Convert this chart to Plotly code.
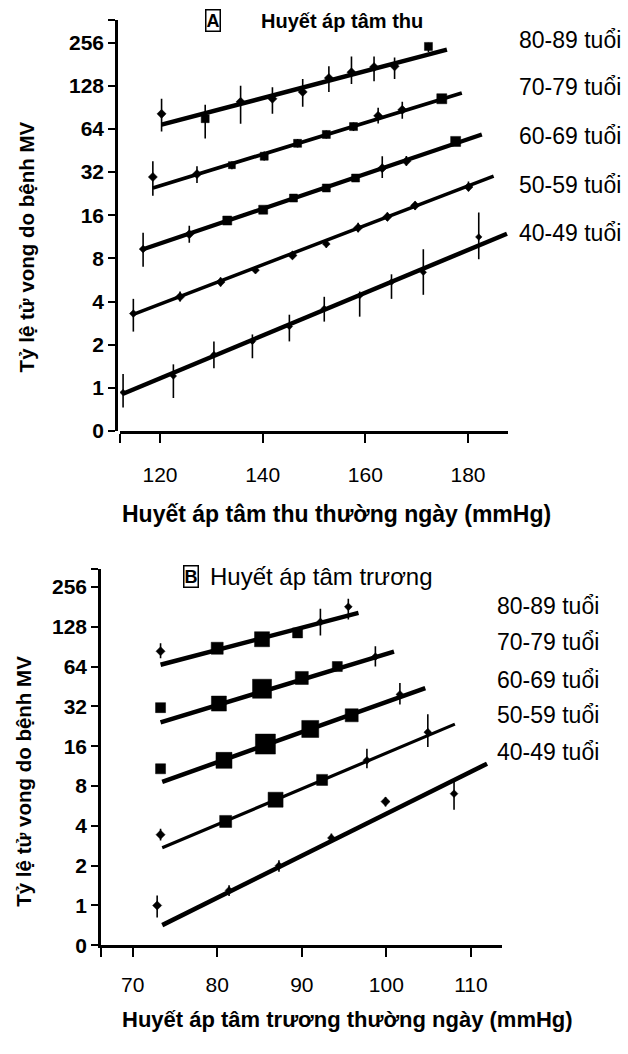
import math
import plotly.graph_objects as go

# ---------------- DATA ----------------
groups = ["80-89 tuổi", "70-79 tuổi", "60-69 tuổi", "50-59 tuổi", "40-49 tuổi"]

# Panel A: systolic BP (mmHg) vs mortality rate
A_x_8089 = [120.3, 128.8, 135.7, 141.9, 147.8, 152.9, 157.3, 161.7, 165.7, 172.3]
A_y_8089 = [81.6, 75.5, 99, 104, 116, 145, 159, 173, 175, 241]
A_hi_8089 = [104, 94.3, 128, 125, 143, 175, 205, 205, 202, 256]
A_lo_8089 = [61.4, 54.9, 69.7, 81.7, 91.4, 116, 132, 138, 143, 220]
A_fitx_8089 = [120.3, 175.9]
A_fity_8089 = [68.6, 229]

A_x_7079 = [118.6, 127.2, 134.0, 140.3, 146.8, 152.4, 157.7, 162.5, 167.2, 174.9]
A_y_7079 = [29.6, 31, 35.8, 41.3, 50.8, 58.6, 66.5, 79, 87, 104]
A_hi_7079 = [38.1, 35.2, 38, 44.5, 54.5, 62.5, 71, 90, 99, 110]
A_lo_7079 = [21.9, 26.9, 33.5, 38.5, 47.5, 55, 62, 70, 75.5, 98]
A_fitx_7079 = [118.6, 178.8]
A_fity_7079 = [24.8, 114]

A_x_6069 = [116.7, 125.7, 133.1, 140.1, 146.0, 152.4, 158.1, 163.3, 168.0, 177.6]
A_y_6069 = [9.3, 11.8, 14.7, 17.5, 21.1, 24.8, 29.1, 34.1, 38.1, 52.4]
A_hi_6069 = [12.1, 13.5, 15.6, 18.5, 22.3, 26.2, 31, 41.3, 41.5, 55.5]
A_lo_6069 = [7.0, 10.3, 13.8, 16.5, 20, 23.5, 27.5, 29.1, 35.5, 49.5]
A_fitx_6069 = [116.7, 182.7]
A_fity_6069 = [9.26, 58.5]

A_x_5059 = [114.8, 123.9, 131.8, 138.6, 145.8, 152.4, 158.6, 164.3, 169.7, 180.1]
A_y_5059 = [3.3, 4.32, 5.48, 6.63, 8.4, 10.1, 13.1, 15.6, 18.7, 25.2]
A_hi_5059 = [4.18, 4.7, 5.9, 7.0, 8.8, 10.8, 14.2, 16.7, 20, 27.5]
A_lo_5059 = [2.47, 4.0, 5.1, 6.3, 8.0, 9.5, 12.2, 14.6, 17.5, 23.5]
A_fitx_5059 = [114.8, 185.0]
A_fity_5059 = [3.26, 30]

A_x_4049 = [112.8, 122.6, 130.5, 138.0, 145.2, 152.0, 158.9, 165.1, 171.3, 182.1]
A_y_4049 = [0.93, 1.21, 1.71, 2.11, 2.68, 3.58, 4.4, 5.48, 6.4, 11.3]
A_hi_4049 = [1.25, 1.46, 2.11, 2.36, 3.24, 4.32, 4.7, 6.2, 9.26, 16.7]
A_lo_4049 = [0.73, 0.85, 1.37, 1.61, 2.11, 2.9, 3.14, 4.18, 4.46, 7.9]
A_fitx_4049 = [112.8, 187.6]
A_fity_4049 = [0.91, 11.9]

# Panel B: diastolic BP (mmHg) vs mortality rate
B_x_8089 = [73.3, 80.0, 85.3, 89.5, 92.2, 95.5]
B_y_8089 = [83.5, 88, 103, 115, 139, 181]
B_hi_8089 = [96, 92, 107, 119, 175, 208]
B_lo_8089 = [74, 84, 99, 111, 110, 145]
B_fitx_8089 = [73.3, 96.7]
B_fity_8089 = [66, 163]

B_x_7079 = [73.3, 80.2, 85.3, 90.0, 94.2, 98.7]
B_y_7079 = [31.3, 33.6, 43.5, 52.5, 64, 76]
B_hi_7079 = [32, 34.5, 44.5, 53.5, 66, 91]
B_lo_7079 = [30.5, 32.8, 42.5, 51.5, 62, 64]
B_fitx_7079 = [73.3, 100.9]
B_fity_7079 = [24.2, 83]

B_x_6069 = [73.3, 80.8, 85.7, 91.0, 95.9, 101.6]
B_y_6069 = [10.8, 12.5, 16.6, 21.6, 27.4, 39.4]
B_hi_6069 = [11, 12.8, 17, 22, 28, 48]
B_lo_6069 = [10.6, 12.2, 16.2, 21.2, 26.8, 33]
B_fitx_6069 = [73.5, 104.6]
B_fity_6069 = [8.6, 44]

B_x_5059 = [73.3, 81.0, 86.9, 92.4, 97.7, 104.9]
B_y_5059 = [3.43, 4.32, 6.3, 8.9, 12.5, 20.4]
B_hi_5059 = [3.8, 4.45, 6.5, 9.2, 15.3, 27.9]
B_lo_5059 = [3.1, 4.2, 6.1, 8.6, 10.9, 15.8]
B_fitx_5059 = [73.5, 108.1]
B_fity_5059 = [2.73, 23.5]

B_x_4049 = [72.9, 81.4, 87.3, 93.5, 99.9, 108.0]
B_y_4049 = [1.0, 1.30, 2.0, 3.24, 6.1, 7.0]
B_hi_4049 = [1.19, 1.42, 2.2, 3.5, 6.6, 8.9]
B_lo_4049 = [0.81, 1.18, 1.8, 3.0, 5.6, 5.3]
B_fitx_4049 = [73.5, 111.9]
B_fity_4049 = [0.71, 11.8]

y_tick_vals = [0.5, 1, 2, 4, 8, 16, 32, 64, 128, 256]
y_tick_text = ["0", "1", "2", "4", "8", "16", "32", "64", "128", "256"]
A_x_ticks = [120, 140, 160, 180]
B_x_ticks = [70, 80, 90, 100, 110]

title_A = "Huyết áp tâm thu"
title_B = "Huyết áp tâm trương"
xtitle_A = "Huyết áp tâm thu thường ngày (mmHg)"
xtitle_B = "Huyết áp tâm trương thường ngày (mmHg)"
ytitle = "Tỷ lệ tử vong do bệnh MV"

# ---------------- STYLES ----------------
D, S = "diamond", "square"
A_styles = [
    dict(sym=[D, S, D, D, D, D, D, D, D, S], size=[7, 8, 7, 7, 7, 7, 7, 7, 7, 8], lw=4.5),
    dict(sym=[D, D, S, S, S, S, S, D, D, S], size=[7, 7, 7, 8, 8, 8, 8, 7, 7, 10], lw=3.8),
    dict(sym=[D, D, S, S, S, S, S, D, D, S], size=[6, 7, 9, 9, 8, 8, 8, 7, 7, 10], lw=4.2),
    dict(sym=[D] * 10, size=[6, 7, 7, 6, 7, 6, 7, 7, 7, 7], lw=3.5),
    dict(sym=[D] * 10, size=[5] * 10, lw=4.5),
]
B_styles = [
    dict(sym=[D, S, S, S, D, D], size=[7, 12, 15, 10, 6, 6], lw=4.5),
    dict(sym=[S, S, S, S, S, D], size=[10, 15, 19, 13, 10, 6], lw=4.5),
    dict(sym=[S, S, S, S, S, D], size=[10, 16, 20, 17, 13, 6], lw=4.5),
    dict(sym=[D, S, S, S, D, D], size=[7, 12, 15, 11, 6, 6], lw=3.2),
    dict(sym=[D, D, D, D, D, D], size=[7, 6, 6, 6, 7, 6], lw=4.5),
]

A_series = [
    (A_x_8089, A_y_8089, A_hi_8089, A_lo_8089, A_fitx_8089, A_fity_8089),
    (A_x_7079, A_y_7079, A_hi_7079, A_lo_7079, A_fitx_7079, A_fity_7079),
    (A_x_6069, A_y_6069, A_hi_6069, A_lo_6069, A_fitx_6069, A_fity_6069),
    (A_x_5059, A_y_5059, A_hi_5059, A_lo_5059, A_fitx_5059, A_fity_5059),
    (A_x_4049, A_y_4049, A_hi_4049, A_lo_4049, A_fitx_4049, A_fity_4049),
]
B_series = [
    (B_x_8089, B_y_8089, B_hi_8089, B_lo_8089, B_fitx_8089, B_fity_8089),
    (B_x_7079, B_y_7079, B_hi_7079, B_lo_7079, B_fitx_7079, B_fity_7079),
    (B_x_6069, B_y_6069, B_hi_6069, B_lo_6069, B_fitx_6069, B_fity_6069),
    (B_x_5059, B_y_5059, B_hi_5059, B_lo_5059, B_fitx_5059, B_fity_5059),
    (B_x_4049, B_y_4049, B_hi_4049, B_lo_4049, B_fitx_4049, B_fity_4049),
]

W, H = 628, 1054
FONT = "Liberation Sans, Arial, sans-serif"


def px(x):
    return x / W


def py(y):
    return 1 - y / H


fig = go.Figure()


def add_panel(series, styles, xa, ya):
    for (xs, ys, hi, lo, fx, fy), st, name in zip(series, styles, groups):
        fig.add_trace(go.Scatter(
            x=fx, y=fy, mode="lines", xaxis=xa, yaxis=ya, name=name,
            line=dict(color="black", width=st["lw"]), showlegend=False,
        ))
        fig.add_trace(go.Scatter(
            x=xs, y=ys, mode="markers", xaxis=xa, yaxis=ya, name=name,
            marker=dict(color="black", symbol=st["sym"], size=st["size"], opacity=1,
                        line=dict(color="black", width=0.5)),
            error_y=dict(type="data", symmetric=False,
                         array=[h - v for h, v in zip(hi, ys)],
                         arrayminus=[v - l for l, v in zip(lo, ys)],
                         color="black", thickness=1.6, width=0),
            showlegend=False,
        ))


add_panel(A_series, A_styles, "x", "y")
add_panel(B_series, B_styles, "x2", "y2")

# axis extents
A_xmin, A_xmax = 112.2, 187.8
A_ytop = 2 ** 8.53
B_xmin, B_xmax = 66.26, 113.67
B_ytop = 2 ** 8.45

axis_common = dict(showline=True, linecolor="black", linewidth=2.5, ticks="outside",
                   tickcolor="black", tickwidth=2, showgrid=False, zeroline=False)

fig.update_layout(
    width=W, height=H, margin=dict(l=0, r=0, t=0, b=0),
    paper_bgcolor="white", plot_bgcolor="white",
    font=dict(family=FONT, color="black"),
    xaxis=dict(domain=[px(120), px(508)], range=[A_xmin, A_xmax], anchor="y",
               tickvals=[A_xmin] + A_x_ticks, ticktext=[""] + [str(t) for t in A_x_ticks],
               ticklen=9, tickfont=dict(size=21), ticklabelstandoff=14, **axis_common),
    yaxis=dict(domain=[py(435.6), py(20)], type="log",
               range=[math.log10(0.5), math.log10(A_ytop)],
               anchor="free", position=px(116),
               tickvals=y_tick_vals + [A_ytop], ticktext=y_tick_text + [""],
               ticklen=7, tickfont=dict(size=21, weight="bold"), **axis_common),
    xaxis2=dict(domain=[px(101), px(502)], range=[B_xmin, B_xmax], anchor="y2",
                tickvals=[B_xmin] + B_x_ticks, ticktext=[""] + [str(t) for t in B_x_ticks],
                ticklen=9, tickfont=dict(size=21), ticklabelstandoff=10, **axis_common),
    yaxis2=dict(domain=[py(955.25), py(575)], type="log",
                range=[math.log10(0.5), math.log10(B_ytop)], anchor="x2",
                tickvals=y_tick_vals + [B_ytop], ticktext=y_tick_text + [""],
                ticklen=7, tickfont=dict(size=21, weight="bold"), **axis_common),
)

ann = []
# group labels
for name, yy in zip(groups, [40, 88, 137, 187, 235]):
    ann.append(dict(x=px(517), y=py(yy), text=name, xanchor="left", yanchor="middle",
                    font=dict(size=23)))
for name, yy in zip(groups, [612, 649, 687, 723, 760]):
    ann.append(dict(x=px(495), y=py(yy), text=name, xanchor="left", yanchor="middle",
                    font=dict(size=23)))
# panel titles
ann.append(dict(x=px(213), y=py(21), text="<b>A</b>", xanchor="center", yanchor="middle",
                font=dict(size=18), bordercolor="black", borderwidth=1.5, borderpad=0))
ann.append(dict(x=px(259), y=py(21), text="<b>" + title_A + "</b>", xanchor="left",
                yanchor="middle", font=dict(size=20)))
ann.append(dict(x=px(191), y=py(583), text="<b>B</b>", xanchor="center", yanchor="middle",
                font=dict(size=18), bordercolor="black", borderwidth=1.5, borderpad=0))
ann.append(dict(x=px(208), y=py(583), text=title_B, xanchor="left", yanchor="middle",
                font=dict(size=24)))
# axis titles
ann.append(dict(x=px(336), y=py(519), text="<b>" + xtitle_A + "</b>", xanchor="center",
                yanchor="middle", font=dict(size=23)))
ann.append(dict(x=px(347), y=py(1030), text="<b>" + xtitle_B + "</b>", xanchor="center",
                yanchor="middle", font=dict(size=22)))
ann.append(dict(x=px(26), y=py(250), text="<b>" + ytitle + "</b>", textangle=-90,
                xanchor="center", yanchor="middle", font=dict(size=20.5)))
ann.append(dict(x=px(24), y=py(790), text="<b>" + ytitle + "</b>", textangle=-90,
                xanchor="center", yanchor="middle", font=dict(size=20.5)))
for a in ann:
    a.update(xref="paper", yref="paper", showarrow=False)
fig.update_layout(annotations=ann)

# remove the default page margin so the figure sits at the window's top-left corner
page_js = ("document.body.style.margin='0';document.body.style.overflow='hidden';"
           "document.documentElement.style.overflow='hidden';")
fig.write_html("out.html", post_script=page_js, config={"displayModeBar": False})
